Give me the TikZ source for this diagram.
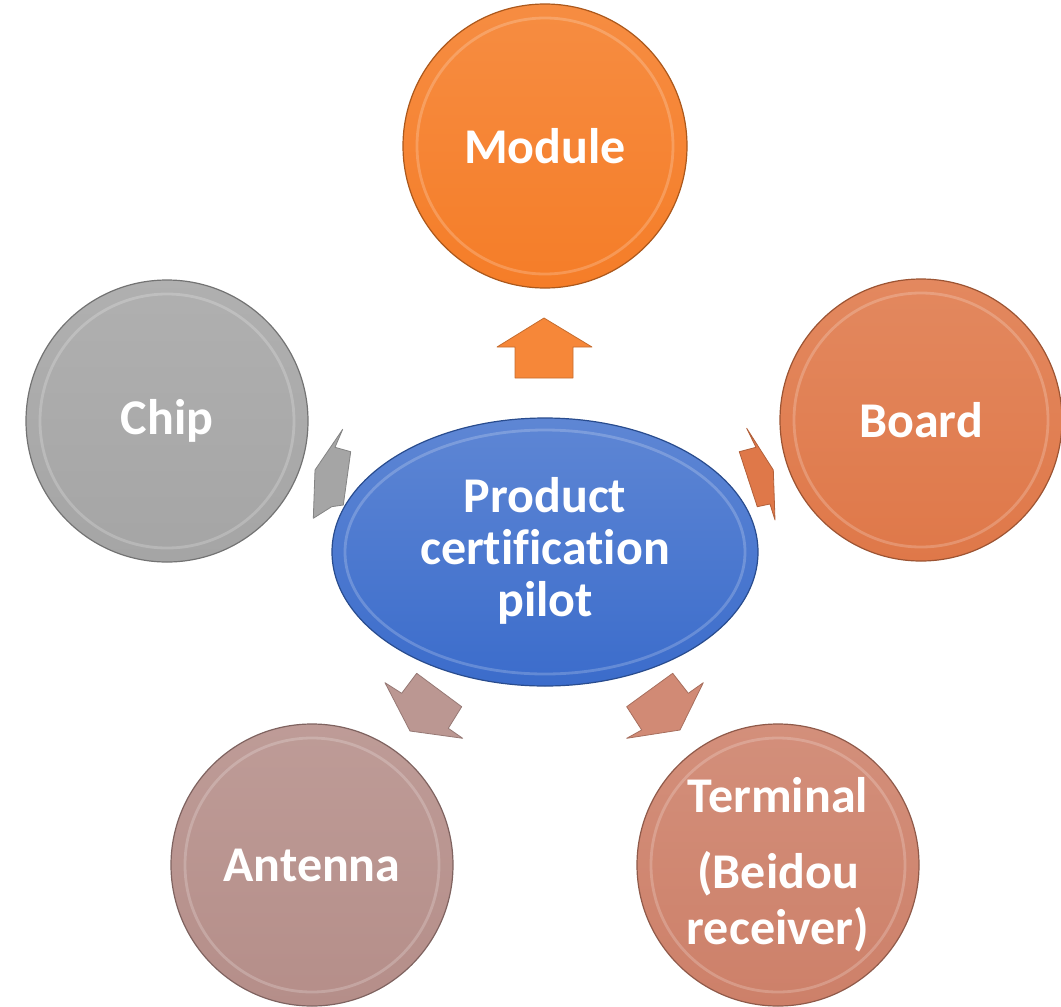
\documentclass[tikz,border=0pt]{standalone}
\usepackage{fontspec}
\setmainfont{Carlito}[Ligatures=NoCommon]
\usepackage{tikz}
\usetikzlibrary{shapes.geometric}
\definecolor{moduleorange}{HTML}{F57D28}
\definecolor{boardorange}{HTML}{DF7849}
\definecolor{chipgray}{HTML}{A5A5A5}
\definecolor{antennarose}{HTML}{B58E89}
\definecolor{terminalsalmon}{HTML}{CD8069}
\definecolor{pilotblue}{HTML}{3B6CCB}
\tikzset{
  bubble/.style={circle, draw=#1!70!black, line width=0.6pt, top color=#1!88!white, bottom color=#1,
    text=white, font=\bfseries\fontsize{25}{28}\selectfont, align=center, minimum size=141pt, inner sep=0pt},
  rim/.style={draw=white, opacity=0.2, line width=1.4pt},
  block/.style={fill=#1, draw=#1!80!black, line width=0.4pt, line join=round},
}

\begin{document}
\begin{tikzpicture}[x=0.5pt, y=-0.5pt]
    \useasboundingbox (0,0) rectangle (1061,1007);
    % centre
    \node [ellipse, draw=pilotblue!70!black, line width=0.6pt, top color=pilotblue!82!white, bottom color=pilotblue,
      minimum width=213pt, minimum height=134pt, inner sep=0pt, text=white, align=center,
      font=\bfseries\fontsize{25}{26}\selectfont] (pilot) at (545,552) {Product\\certification\\pilot\\[-21pt]};
    \draw [rim] (pilot.center) ellipse [x radius=200, y radius=122];
    % outer circles
    \node [bubble=moduleorange, minimum size=142pt] (module) at (545,146) {Module};
    \node [bubble=boardorange] (board) at (921,420) {Board};
    \node [bubble=chipgray] (chip) at (167,421) {Chip};
    \node [bubble=antennarose] (antenna) at (312,865) {Antenna};
    \node [bubble=terminalsalmon] (terminal) at (778,865) {Terminal\\[10pt](Beidou\\receiver)};
    \draw [rim] (module.center) circle (128);
    \draw [rim] (board.center) circle (127);
    \draw [rim] (chip.center) circle (127);
    \draw [rim] (antenna.center) circle (127);
    \draw [rim] (terminal.center) circle (127);
    % block arrows
    \draw [block=moduleorange!92!white] (544,318) -- (592,347) -- (573,347) -- (573,378) -- (515,378) -- (515,347) -- (497,347) -- cycle;
    \draw [block=boardorange] (746.7,428.3) -- (773.3,470) -- (775,520) -- (770,504) -- (757.3,506.7) -- (739.3,451.7) -- (756,447.3) -- cycle;
    \draw [block=chipgray] (342.7,429.3) -- (315,470) -- (313.3,518.3) -- (331.7,506.7) -- (343.3,505) -- (350.7,451.7) -- (335,447.3) -- cycle;
    \draw [block=antennarose!92!white] (385,682.7) -- (401.7,693.3) -- (416.7,673.3) -- (461.7,706.7) -- (448.3,728.3) -- (462.7,738.3) -- (410,731) -- cycle;
    \draw [block=terminalsalmon!92!white] (672.7,673.3) -- (688.3,693.3) -- (703.3,682.7) -- (680,730) -- (626.7,738.3) -- (641.7,730) -- (626.7,706.7) -- cycle;
\end{tikzpicture}
\end{document}
